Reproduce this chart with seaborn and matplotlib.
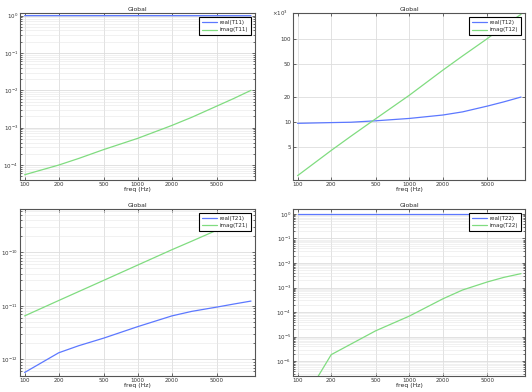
import numpy as np
import pandas as pd
import matplotlib
matplotlib.use("Agg")
import matplotlib.pyplot as plt
import matplotlib.ticker as mticker
import seaborn as sns

# frequency samples (Hz)
freq = [100, 200, 300, 500, 1000, 2000, 3000, 5000, 7000, 10000]

# transfer matrix entries
t11_real = [1.0, 1.0, 1.0, 1.0, 1.0, 0.999, 0.998, 0.997, 0.996, 0.995]
t11_imag = [5.5e-5, 1.0e-4, 1.5e-4, 2.6e-4, 5.2e-4, 1.15e-3, 1.9e-3, 3.8e-3, 6.0e-3, 1.0e-2]

t12_real = [9.7e3, 9.9e3, 10.0e3, 10.4e3, 11.1e3, 12.2e3, 13.3e3, 15.6e3, 17.5e3, 20.0e3]
t12_imag = [2.3e3, 4.6e3, 6.8e3, 11.0e3, 21.0e3, 42e3, 62e3, 100e3, 140e3, 195e3]

t21_real = [5.7e-13, 1.33e-12, 1.8e-12, 2.5e-12, 4.1e-12, 6.5e-12, 7.9e-12, 9.5e-12, 1.08e-11, 1.23e-11]
t21_imag = [6.5e-12, 1.26e-11, 1.85e-11, 3.0e-11, 5.8e-11, 1.12e-10, 1.62e-10, 2.6e-10, 3.6e-10, 5.0e-10]

t22_real = [1.0, 1.0, 1.0, 1.0, 1.0, 1.0, 1.0, 1.0, 1.0, 1.0]
t22_imag = [1e-8, 1.86e-6, 5.0e-6, 1.74e-5, 6.9e-5, 3.5e-4, 8.0e-4, 1.7e-3, 2.6e-3, 3.7e-3]

xticks = [100, 200, 500, 1000, 2000, 5000]

BLUE = "#5c78ff"
GREEN = "#80dc80"

sns.set_style("ticks")
plt.rcParams['font.family'] = ['DejaVu Sans']

W, H = 532, 392
fig = plt.figure(figsize=(W / 100, H / 100), dpi=100)


def px_axes(left, top, right, bottom):
    return fig.add_axes([left / W, 1 - bottom / H, (right - left) / W, (bottom - top) / H])


def keep_in_view(ax):
    # only keep y ticks that fall inside the limits
    lo, hi = ax.get_ylim()
    major = [t for t in ax.get_yticks() if lo <= t <= hi]
    minor = [t for t in ax.get_yticks(minor=True) if lo <= t <= hi]
    ax.set_yticks(major)
    ax.set_yticks(minor, minor=True)
    ax.yaxis.set_minor_formatter(mticker.NullFormatter())
    ax.set_ylim(lo, hi)


def style_axes(ax, ylim, minor_grid=True):
    ax.set_xscale("log")
    ax.set_yscale("log")
    ax.set_xlim(91, 10850)
    ax.set_ylim(*ylim)
    ax.set_xticks(xticks)
    ax.xaxis.set_major_formatter(mticker.FixedFormatter([str(t) for t in xticks]))
    ax.xaxis.set_minor_locator(mticker.NullLocator())
    ax.yaxis.set_minor_formatter(mticker.NullFormatter())
    ax.tick_params(which="both", direction="in", top=True, right=True,
                   labelsize=4.0, length=2, width=0.5, pad=1.5, colors="#333333")
    ax.tick_params(which="minor", length=1.2)
    ax.grid(True, which="major", color="#dddddd", lw=0.6)
    if minor_grid:
        ax.grid(True, which="minor", axis="y", color="#e6e6e6", lw=0.4)
    for s in ax.spines.values():
        s.set_color("#555555")
        s.set_linewidth(0.8)
    ax.set_title("Global", fontsize=4.4, pad=1.5)
    ax.set_xlabel("freq (Hz)", fontsize=4.4, labelpad=0)
    ax.set_ylabel("")
    leg = ax.legend(loc="upper right", fontsize=4.0, frameon=True, fancybox=False,
                    borderpad=0.5, handlelength=2.6, handletextpad=0.6,
                    labelspacing=0.5, borderaxespad=0.7)
    leg.get_frame().set_edgecolor("black")
    leg.get_frame().set_linewidth(0.8)
    leg.get_frame().set_alpha(1)


def plot_pair(ax, real, imag, name):
    df = pd.DataFrame({"freq": freq, "real": real, "imag": imag})
    sns.lineplot(data=df, x="freq", y="real", ax=ax, color=BLUE, lw=0.9,
                 label=f"real({name})")
    sns.lineplot(data=df, x="freq", y="imag", ax=ax, color=GREEN, lw=0.9,
                 label=f"imag({name})")


# T11
ax1 = px_axes(20, 13, 255, 180)
plot_pair(ax1, t11_real, t11_imag, "T11")
style_axes(ax1, (10 ** -4.4, 10 ** 0.07))
keep_in_view(ax1)

# T12
ax2 = px_axes(293, 13, 525, 180)
plot_pair(ax2, t12_real, t12_imag, "T12")
style_axes(ax2, (2.04e3, 2.02e5), minor_grid=False)
ax2.yaxis.set_minor_locator(mticker.NullLocator())
ax2.set_yticks([5e3, 10e3, 20e3, 50e3, 100e3])
ax2.yaxis.set_major_formatter(mticker.FuncFormatter(lambda v, p: f"{v / 1e3:g}"))
ax2.text(-0.09, 1.0, r"$\times10^3$", transform=ax2.transAxes, fontsize=4.0,
         ha="left", va="center", color="#333333")

# T21
ax3 = px_axes(20, 209, 255, 376)
plot_pair(ax3, t21_real, t21_imag, "T21")
style_axes(ax3, (10 ** -12.31, 10 ** -9.19))
keep_in_view(ax3)

# T22
ax4 = px_axes(293, 209, 525, 376)
plot_pair(ax4, t22_real, t22_imag, "T22")
style_axes(ax4, (10 ** -6.6, 10 ** 0.2))
keep_in_view(ax4)

fig.savefig("out.png", dpi=100)
